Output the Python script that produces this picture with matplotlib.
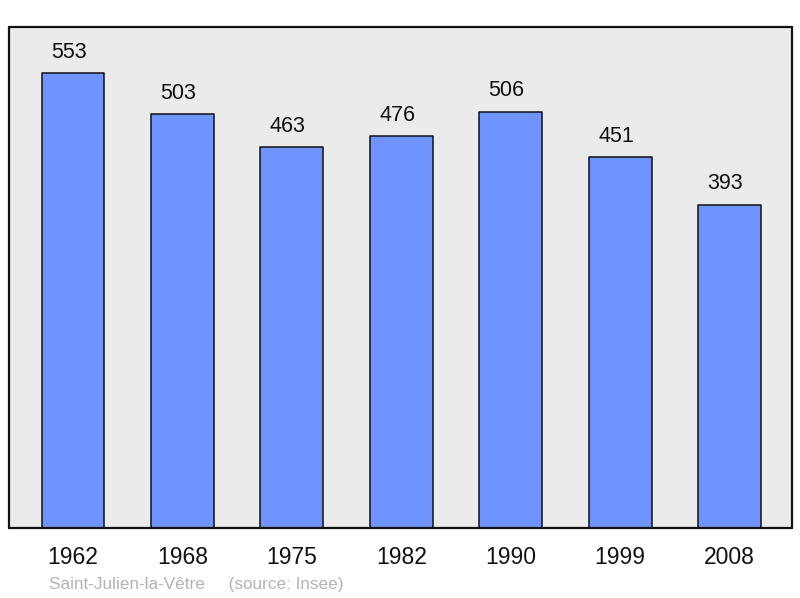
import matplotlib
matplotlib.use("Agg")
import matplotlib.pyplot as plt
import numpy as np

plt.rcParams['font.family'] = ['Liberation Sans', 'DejaVu Sans']

years = ["1962", "1968", "1975", "1982", "1990", "1999", "2008"]
population = [553, 503, 463, 476, 506, 451, 393]
commune = "Saint-Julien-la-Vêtre"
source = "(source: Insee)"

fig = plt.figure(figsize=(8, 5.98), dpi=100)
ax = fig.add_axes([9 / 800, 70 / 598, 783 / 800, 501 / 598])
ax.set_facecolor('#ebebeb')

x = np.arange(len(years))
bars = ax.bar(x, population, width=0.575, color='#7094ff',
              edgecolor='#111111', linewidth=1.1, zorder=2)
for b in bars:
    b.set_joinstyle('round')

for xi, v in zip(x, population):
    ax.annotate(str(v), (xi, v), xytext=(-3, 15), textcoords='offset points',
                ha='center', va='center', fontsize=15.5, color='#111111')

ax.set_xlim(-0.585, 6.57)
ax.set_ylim(0, 609)
ax.set_yticks([])
ax.set_xticks(x)
ax.set_xticklabels(years, fontsize=16.5, color='#111111')
ax.tick_params(axis='x', length=0, pad=13)

for s in ax.spines.values():
    s.set_linewidth(1.6)
    s.set_color('#111111')
    s.set_joinstyle('round')
    s.set_capstyle('round')

fig.text(49 / 800, 1 - 584 / 598, commune + "     " + source,
         fontsize=12.3, color='#b3b3b3', ha='left', va='center')

fig.savefig("out.png", dpi=100, facecolor='white')
